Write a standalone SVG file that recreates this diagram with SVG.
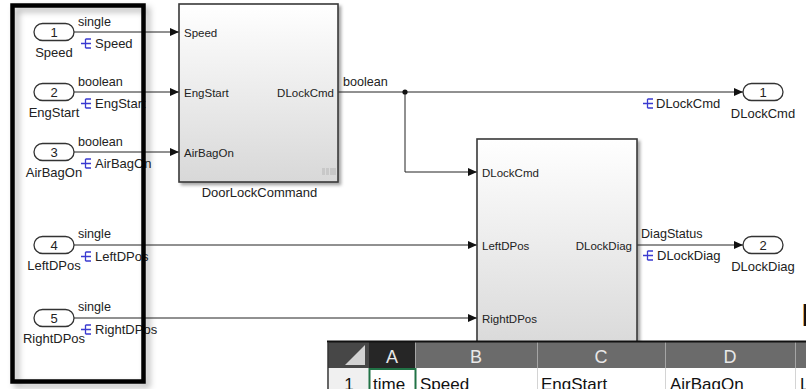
<svg xmlns="http://www.w3.org/2000/svg" width="806" height="389" viewBox="0 0 806 389">
<defs>
<style>
text{font-family:"Liberation Sans",Arial,sans-serif;fill:#222}
.pill{fill:#fff;stroke:#333;stroke-width:1.3}
.num{font-size:13px;text-anchor:middle}
.lbl{font-size:13px;text-anchor:middle}
.sig{font-size:12.6px}
.port{font-size:11.5px}
.portr{font-size:11.5px;text-anchor:end}
.blk{fill:url(#bg);stroke:#3a3a3a;stroke-width:1.6}
.wire{fill:none;stroke:#222;stroke-width:1}
.ico{fill:none;stroke:#3a3ad0;stroke-width:1.3}
.hdr{font-size:18px;fill:#e8e8e8;text-anchor:middle}
.cell{font-size:17px;fill:#111}
</style>
<linearGradient id="bg" x1="0" y1="0" x2="0" y2="1">
<stop offset="0" stop-color="#ffffff"/>
<stop offset="1" stop-color="#d8d8d8"/>
</linearGradient>
<filter id="sh" x="-10%" y="-10%" width="130%" height="130%">
<feDropShadow dx="2.5" dy="2.5" stdDeviation="1.5" flood-color="#000" flood-opacity="0.35"/>
</filter>
<filter id="sh2" x="-20%" y="-10%" width="140%" height="130%">
<feDropShadow dx="4" dy="4" stdDeviation="3" flood-color="#000" flood-opacity="0.3"/>
</filter>
<marker id="arr" markerUnits="userSpaceOnUse" markerWidth="9" markerHeight="8" refX="9" refY="4" orient="auto" viewBox="0 0 9 8">
<path d="M0,0 L9,4 L0,8 z" fill="#111"/>
</marker>
</defs>
<rect width="806" height="389" fill="#fff"/>

<g id="connectors">
<path class="wire" d="M74,32 H179" marker-end="url(#arr)"/>
<path class="wire" d="M74,92 H179" marker-end="url(#arr)"/>
<path class="wire" d="M74,152 H179" marker-end="url(#arr)"/>
<path class="wire" d="M74,245 H477" marker-end="url(#arr)"/>
<path class="wire" d="M74,318 H477" marker-end="url(#arr)"/>
<path class="wire" d="M338,92 H743" marker-end="url(#arr)"/>
<path class="wire" d="M405,92 V172 H477" marker-end="url(#arr)"/>
<path class="wire" d="M637,245 H743" marker-end="url(#arr)"/>
<circle cx="405" cy="92" r="2.6" fill="#111"/>
<text class="sig" x="78" y="26">single</text>
<text class="sig" x="78" y="86">boolean</text>
<text class="sig" x="78" y="146">boolean</text>
<text class="sig" x="78" y="238">single</text>
<text class="sig" x="78" y="311">single</text>
<text class="sig" x="343" y="86">boolean</text>
<text class="sig" x="641" y="238">DiagStatus</text>
<path class="ico" d="M81,43.5 H91 M85.5,39 V48 M85.5,39 H91 M85.5,48 H91"/>
<text class="lbl" x="95" y="48" style="text-anchor:start">Speed</text>
<path class="ico" d="M81,103.5 H91 M85.5,99 V108 M85.5,99 H91 M85.5,108 H91"/>
<text class="lbl" x="95" y="108" style="text-anchor:start">EngStart</text>
<path class="ico" d="M81,163.5 H91 M85.5,159 V168 M85.5,159 H91 M85.5,168 H91"/>
<text class="lbl" x="95" y="168" style="text-anchor:start">AirBagOn</text>
<path class="ico" d="M81,256.5 H91 M85.5,252 V261 M85.5,252 H91 M85.5,261 H91"/>
<text class="lbl" x="95" y="261" style="text-anchor:start">LeftDPos</text>
<path class="ico" d="M81,329.5 H91 M85.5,325 V334 M85.5,325 H91 M85.5,334 H91"/>
<text class="lbl" x="95" y="334" style="text-anchor:start">RightDPos</text>
<path class="ico" d="M643,103.5 H653 M647.5,99 V108 M647.5,99 H653 M647.5,108 H653"/>
<text class="lbl" x="656" y="108" style="text-anchor:start">DLockCmd</text>
<path class="ico" d="M643,255.5 H653 M647.5,251 V260 M647.5,251 H653 M647.5,260 H653"/>
<text class="lbl" x="657" y="260" style="text-anchor:start">DLockDiag</text>
</g>

<g id="in1"><rect class="pill" x="34" y="23.5" width="40" height="17" rx="8.5"/><text class="num" x="54" y="36.5">1</text><text class="lbl" x="54" y="57">Speed</text></g>
<g id="in2"><rect class="pill" x="34" y="83.5" width="40" height="17" rx="8.5"/><text class="num" x="54" y="96.5">2</text><text class="lbl" x="54" y="117">EngStart</text></g>
<g id="in3"><rect class="pill" x="34" y="143.5" width="40" height="17" rx="8.5"/><text class="num" x="54" y="156.5">3</text><text class="lbl" x="54" y="177">AirBagOn</text></g>
<g id="in4"><rect class="pill" x="34" y="236.5" width="40" height="17" rx="8.5"/><text class="num" x="54" y="249.5">4</text><text class="lbl" x="54" y="270">LeftDPos</text></g>
<g id="in5"><rect class="pill" x="34" y="309.5" width="40" height="17" rx="8.5"/><text class="num" x="54" y="322.5">5</text><text class="lbl" x="54" y="343">RightDPos</text></g>

<g id="highlight">
<rect x="12.5" y="5.5" width="131" height="376" fill="none" stroke="#000" stroke-width="4.5" filter="url(#sh2)"/>
</g>

<g id="DoorLockCommand">
<rect class="blk" x="179" y="4" width="159" height="178" filter="url(#sh)"/>
<text class="port" x="184" y="36.5">Speed</text>
<text class="port" x="184" y="96.5">EngStart</text>
<text class="port" x="184" y="156.5">AirBagOn</text>
<text class="portr" x="334" y="96.5">DLockCmd</text>
<rect x="322" y="168" width="3" height="7" fill="#c8c8c8"/>
<rect x="326" y="168" width="3" height="7" fill="#c8c8c8"/>
<rect x="330" y="168" width="6" height="7" fill="#c8c8c8"/>
<text x="259.5" y="197" style="font-size:13px;text-anchor:middle">DoorLockCommand</text>
</g>

<g id="DiagBlock">
<rect class="blk" x="477" y="139" width="160" height="215" filter="url(#sh)"/>
<text class="port" x="482" y="176.5">DLockCmd</text>
<text class="port" x="482" y="249.5">LeftDPos</text>
<text class="port" x="482" y="322.5">RightDPos</text>
<text class="portr" x="632" y="249.5">DLockDiag</text>
</g>

<g id="out1"><rect class="pill" x="743" y="83.5" width="40" height="17" rx="8.5"/><text class="num" x="763" y="96.5">1</text><text class="lbl" x="763" y="118">DLockCmd</text></g>
<g id="out2"><rect class="pill" x="743" y="236.5" width="40" height="17" rx="8.5"/><text class="num" x="763" y="249.5">2</text><text class="lbl" x="763" y="270.5">DLockDiag</text></g>

<text x="801" y="326" style="font-size:32px;fill:#111">E</text>

<g id="spreadsheet">
<rect x="328" y="341" width="478" height="48" fill="#fff"/>
<rect x="328" y="342" width="478" height="26" fill="#6b6b6b"/>
<rect x="328" y="342" width="41" height="26" fill="#474747"/>
<path d="M365,345 V365 H345 z" fill="#d2d2d2"/>
<rect x="369" y="342" width="46" height="26" fill="#262626"/>
<g stroke="#a5a5a5" stroke-width="1">
<path d="M415.5,342 V368 M537.5,342 V368 M665.5,342 V368 M795.5,342 V368"/>
</g>
<path d="M327,341.5 H806" stroke="#111" stroke-width="2"/>
<path d="M328,342 V389" stroke="#333" stroke-width="1.5"/>
<text class="hdr" x="392" y="363">A</text>
<text class="hdr" x="476" y="363">B</text>
<text class="hdr" x="601" y="363">C</text>
<text class="hdr" x="730" y="363">D</text>
<rect x="329" y="368" width="40" height="21" fill="#f0f0f0"/>
<g stroke="#d4d4d4" stroke-width="1">
<path d="M537.5,368 V389 M665.5,368 V389 M795.5,368 V389"/>
</g>
<rect x="369.5" y="369" width="46" height="22" fill="none" stroke="#217346" stroke-width="2"/>
<text class="cell" x="349" y="390" style="text-anchor:middle">1</text>
<text class="cell" x="373" y="390">time</text>
<text class="cell" x="420" y="390">Speed</text>
<text class="cell" x="541" y="390">EngStart</text>
<text class="cell" x="670" y="390">AirBagOn</text>
<text class="cell" x="800" y="390">L</text>
</g>
</svg>
